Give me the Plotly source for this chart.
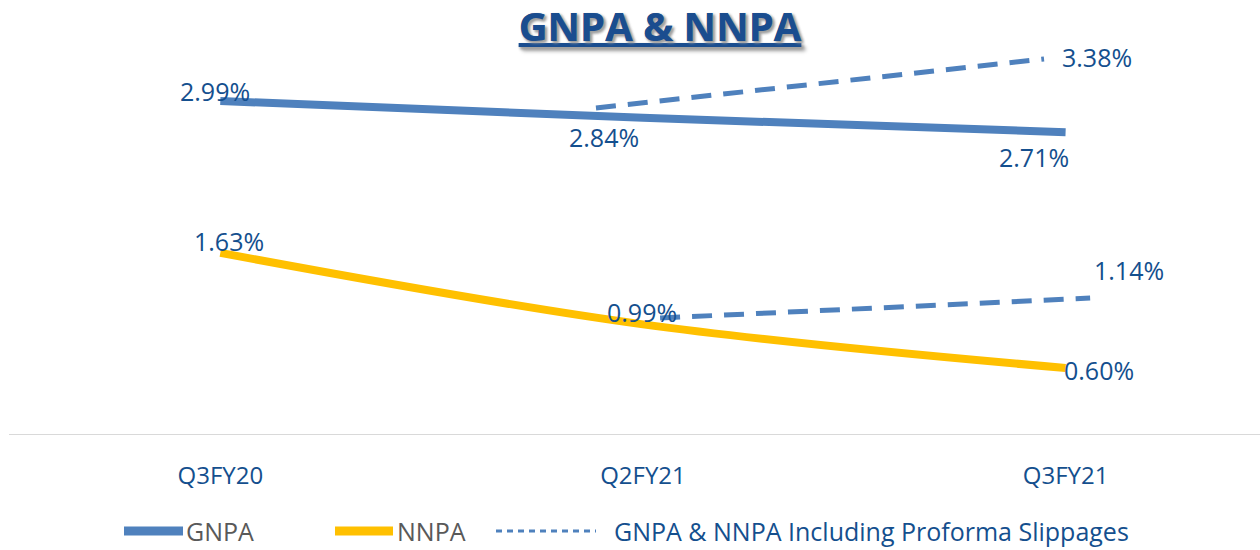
import plotly.graph_objects as go

categories = ["Q3FY20", "Q2FY21", "Q3FY21"]
gnpa = [2.99, 2.84, 2.71]
nnpa = [1.63, 0.99, 0.60]
proforma_cats = ["Q2FY21", "Q3FY21"]
gnpa_proforma = [2.84, 3.38]
nnpa_proforma = [0.99, 1.14]
legend_names = ["GNPA", "NNPA", "GNPA & NNPA Including Proforma Slippages"]

BLUE = "#4f81bd"
GOLD = "#ffc000"
TXT = "#144f8e"
GREY = "#595959"
FONT = "Open Sans"
L, T, B = 9, 44, 115

fig = go.Figure()
fig.add_trace(go.Scatter(x=categories, y=gnpa, mode="lines", line=dict(color=BLUE, width=8, shape="spline"),
                         name=legend_names[0], showlegend=False))
fig.add_trace(go.Scatter(x=categories, y=nnpa, mode="lines", line=dict(color=GOLD, width=8, shape="spline"),
                         name=legend_names[1], showlegend=False))
fig.add_trace(go.Scatter(x=proforma_cats, y=gnpa_proforma, mode="lines", xaxis="x2", yaxis="y2",
                         line=dict(color=BLUE, width=5, dash="20px,12px"),
                         name=legend_names[2], showlegend=False))
fig.add_trace(go.Scatter(x=proforma_cats, y=nnpa_proforma, mode="lines", xaxis="x3", yaxis="y3",
                         line=dict(color=BLUE, width=5, dash="20px,12px"), showlegend=False))

# data labels (pixel offsets from the point)
gnpa_shift = [(-5, 10), (-39, -19), (-32, -25)]
nnpa_shift = [(9, 12), (-1, 12), (33, -2)]
for c, v, (dx, dy) in zip(categories, gnpa, gnpa_shift):
    fig.add_annotation(x=c, y=v, text=f"{v:.2f}%", showarrow=False, xshift=dx, yshift=dy)
for c, v, (dx, dy) in zip(categories, nnpa, nnpa_shift):
    fig.add_annotation(x=c, y=v, text=f"{v:.2f}%", showarrow=False, xshift=dx, yshift=dy)
fig.add_annotation(x=proforma_cats[-1], y=gnpa_proforma[-1], text=f"{gnpa_proforma[-1]:.2f}%",
                   showarrow=False, xshift=31, yshift=0)
fig.add_annotation(x=proforma_cats[-1], y=nnpa_proforma[-1], text=f"{nnpa_proforma[-1]:.2f}%",
                   showarrow=False, xshift=63, yshift=38)
fig.update_annotations(font=dict(family=FONT, size=25, color=TXT))

# manual legend (pixel layout)
LEG_Y = 531
legend_items = [
    dict(x0=124, x1=183, w=9, color=BLUE, dash="solid", tx=184, tcol=GREY, name=legend_names[0]),
    dict(x0=335, x1=393, w=9, color=GOLD, dash="solid", tx=395, tcol=GREY, name=legend_names[1]),
    dict(x0=496, x1=596, w=3, color=BLUE, dash="6px,5px", tx=612, tcol=TXT, name=legend_names[2]),
]
for it in legend_items:
    fig.add_shape(type="line", xref="paper", yref="paper", xsizemode="pixel", ysizemode="pixel",
                  xanchor=0, yanchor=0, x0=it["x0"] - L, x1=it["x1"] - L,
                  y0=-(LEG_Y - (550 - B)), y1=-(LEG_Y - (550 - B)),
                  line=dict(color=it["color"], width=it["w"], dash=it["dash"]))
    fig.add_annotation(xref="paper", yref="paper", x=0, y=0, xanchor="left", yanchor="middle",
                       xshift=it["tx"] - L, yshift=-(LEG_Y - (550 - B)), text=it["name"], showarrow=False,
                       font=dict(family=FONT, size=25, color=it["tcol"]))

fig.update_layout(
    width=1260, height=550,
    margin=dict(l=L, r=0, t=T, b=B, autoexpand=False),
    paper_bgcolor="white", plot_bgcolor="white",
    font=dict(family=FONT, color=TXT),
    title=dict(text="<b><u>GNPA & NNPA</u></b>", x=660 / 1260, xref="container", xanchor="center",
               y=1 - 27 / 550, yref="container", yanchor="middle",
               font=dict(family=FONT, size=40, weight=800, color="#1a4d8f", shadow="2px 2px 3px #a0a0a0")),
    xaxis=dict(range=[-0.5, 2.46], showgrid=False, zeroline=False, showline=False, automargin=False,
               ticks="", ticklabelstandoff=24, tickfont=dict(family=FONT, size=24, color=TXT)),
    xaxis2=dict(overlaying="x", range=[-0.310, 2.482], visible=False, type="category",
                categoryorder="array", categoryarray=categories),
    xaxis3=dict(overlaying="x", range=[-0.514, 2.395], visible=False, type="category",
                categoryorder="array", categoryarray=categories),
    yaxis=dict(range=[0, 3.5], visible=False, showgrid=False, automargin=False),
    yaxis2=dict(overlaying="y", range=[-0.764, 3.545], visible=False, showgrid=False),
    yaxis3=dict(overlaying="y", range=[0.1125, 3.046], visible=False, showgrid=False),
    showlegend=False,
)
fig.add_hline(y=0, line=dict(color="#d9d9d9", width=2))
fig.write_html("out.html", config={"displayModeBar": False},
               post_script="document.body.style.margin='0';")
